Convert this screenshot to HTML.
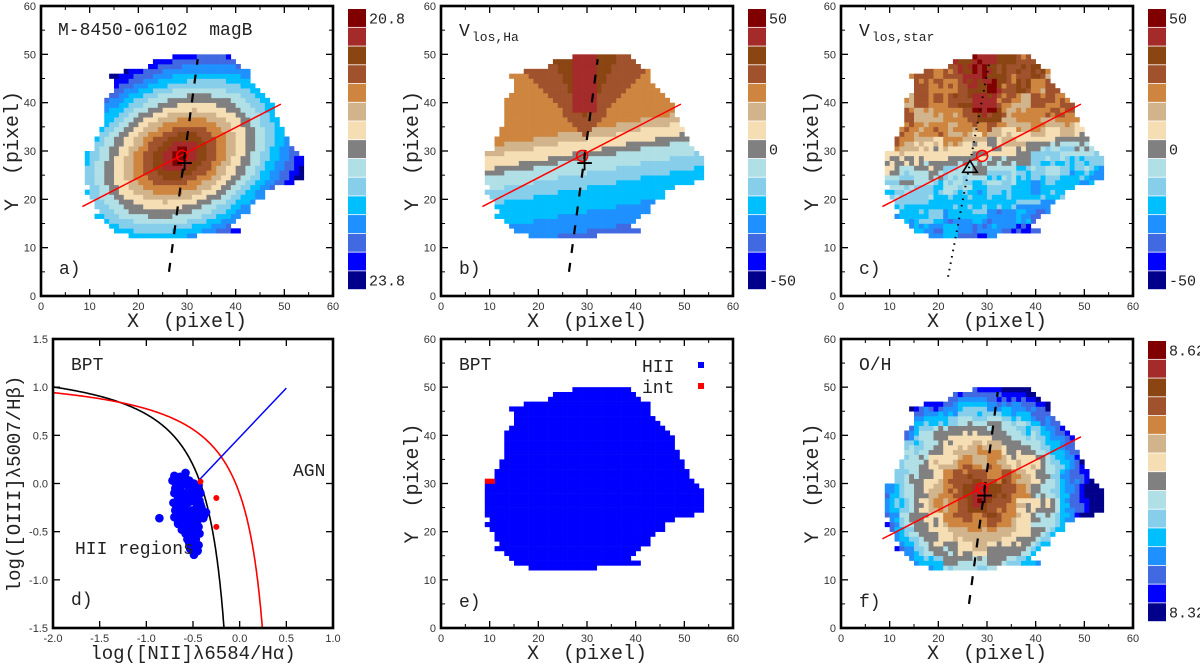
<!DOCTYPE html>
<html><head><meta charset="utf-8"><style>
body{margin:0;background:#fff}
svg text{font-family:"Liberation Mono",monospace;fill:#222}
.tk{font-family:"Liberation Sans",sans-serif;font-size:11px;fill:#333}
</style></head><body>
<svg id="fig" width="1200" height="667" xmlns="http://www.w3.org/2000/svg"></svg>
<script>
// ---- data ----
const maskY0 = 12;
const maskXmin = [18,15,14,13,11,12,11,11,10,9,10,9,9,9,9,9,9,9,11,11,11,12,12,13,13,13,13,13,13,14,15,15,15,14,17,22,23,27];
const maskXmax = [31,40,38,39,40,42,42,43,45,45,47,51,53,53,53,53,53,52,51,50,50,49,49,48,48,47,47,47,46,45,44,43,42,42,42,40,39,38];
const palette = ['#800000','#a52a2a','#8b4513','#a0522d','#cd853f','#d2b48c','#f5deb3','#808080','#b0e0e6','#87ceeb','#00bfff','#1e90ff','#4169e1','#0000ff','#00008b'];
const intCells = [[9,30],[10,30]];
const bptX = [-0.72,-0.70,-0.69,-0.68,-0.67,-0.66,-0.65,-0.64,-0.63,-0.62,-0.61,-0.60,-0.59,-0.58,-0.57,-0.56,-0.55,-0.54,-0.53,-0.52,-0.51,-0.50,-0.49,-0.48,-0.47,-0.46,-0.45,-0.44,-0.42,-0.40,-0.38,
 -0.71,-0.69,-0.67,-0.65,-0.63,-0.61,-0.59,-0.57,-0.55,-0.53,-0.51,-0.49,-0.47,-0.45,-0.43,-0.41,-0.39,-0.36,
 -0.70,-0.68,-0.66,-0.64,-0.62,-0.60,-0.58,-0.56,-0.54,-0.52,-0.50,-0.48,-0.46,-0.44,-0.42,
 -0.58,-0.56,-0.54,-0.52,-0.50,-0.48,-0.46,-0.44,-0.55,-0.51,-0.47,-0.43,-0.53,-0.49,-0.45,-0.50,-0.47,-0.44,-0.86,-0.58,-0.66,-0.62,-0.57,
 -0.68,-0.64,-0.60,-0.56,-0.52,-0.48,-0.70,-0.66,-0.62,-0.58,-0.54,-0.50,-0.46];
const bptY = [0.03,0.08,-0.05,0.06,-0.12,0.02,-0.18,0.07,-0.08,0.04,-0.22,0.01,-0.15,0.05,-0.28,-0.02,-0.35,0.03,-0.10,-0.40,-0.05,-0.30,0.00,-0.45,-0.20,-0.06,-0.38,-0.12,-0.22,-0.30,-0.33,
 -0.20,-0.28,-0.32,-0.25,-0.38,-0.30,-0.42,-0.36,-0.20,-0.45,-0.28,-0.15,-0.33,-0.08,-0.18,-0.25,-0.36,-0.30,
 -0.10,-0.02,-0.15,-0.05,-0.18,-0.10,-0.22,-0.12,-0.08,-0.16,-0.12,-0.05,-0.25,-0.02,-0.10,
 -0.52,-0.58,-0.62,-0.66,-0.70,-0.72,-0.68,-0.64,-0.55,-0.60,-0.58,-0.52,-0.68,-0.74,-0.70,-0.50,-0.62,-0.45,-0.36,0.11,-0.42,-0.48,-0.44,
 -0.26,-0.33,-0.40,-0.30,-0.48,-0.40,-0.35,-0.40,-0.27,-0.50,-0.36,-0.56,-0.52];
const bptRedX = [-0.42,-0.25,-0.25];
const bptRedY = [0.02,-0.15,-0.45];
const xTicksMap = [0,10,20,30,40,50,60];
const xTicksBpt = ['-2.0','-1.5','-1.0','-0.5','0.0','0.5','1.0'];
const yTicksBpt = ['-1.5','-1.0','-0.5','0.0','0.5','1.0','1.5'];

// ---- helpers ----
const svg = document.getElementById('fig');
const NS = 'http://www.w3.org/2000/svg';
const SP = '\u00a0';
function mk(tag, attrs, parent){const e=document.createElementNS(NS,tag);for(const k in attrs)e.setAttribute(k,attrs[k]);(parent||svg).appendChild(e);return e;}
function txt(x,y,s,attrs,parent){const e=mk('text',Object.assign({x:x,y:y},attrs||{}),parent);e.textContent=s;return e;}

function panelBox(col,row){const x0=col*400+(col===0&&row===1?53:41);return {x0:x0,x1:col*400+333,y0:row?339:6,y1:row?628:296};}
function hash(i,j){return (((i*73+j*151+i*j*7)%23)+23)%23/23;}
function smooth(i,j){return (hash(i,j)+hash(Math.floor(i/3),Math.floor(j/3))*2)/3;}

function fieldIndex(kind,x,y){
  const cx=x+0.5, cy=y+0.5;
  if(kind==='a'){const t=27*Math.PI/180;const u=(cx-28.5)*Math.cos(t)+(cy-29)*Math.sin(t);const v=-(cx-28.5)*Math.sin(t)+(cy-29)*Math.cos(t);const d=Math.sqrt((u/1.4)**2+v*v);return Math.min(14,Math.floor(d/1.45));}
  if(kind==='b'||kind==='c'){
    const s=(cy-28.5)-0.18*(cx-30);let idx;
    if(s>=0){idx=s<1.5?7:s<4?6:s<6?5:4;
      const dx=Math.abs(cx-29.5);
      if(cy>33&&dx<(cy-33)*0.9)idx=3;
      if(cy>37&&dx<(cy-37)*0.55)idx=2;
      if(cy>38&&dx<2.6)idx=1;}
    else{idx=s>-3?8:s>-6?9:s>-11?10:s>-15?11:12;}
    if(kind==='c')idx+=Math.round((smooth(x,y)-0.5)*3.0);
    return Math.max(0,Math.min(14,idx));}
  if(kind==='f'){const d=Math.hypot(cx-28.5,cy-28);let idx=1+d*0.45+(smooth(x,y)-0.5)*2.6;if(d>15)idx+=(d-15)*0.35;return Math.max(0,Math.min(14,Math.round(idx)));}
  return 12;
}

function frameTicks(g,b,xt,yt,minor){
  const xs=i=>b.x0+(b.x1-b.x0)*i/(xt.length-1), ys=i=>b.y1-(b.y1-b.y0)*i/(yt.length-1);
  for(let i=0;i<xt.length;i++){const x=xs(i);mk('line',{x1:x,y1:b.y1,x2:x,y2:b.y1-7,stroke:'#000','stroke-width':1.3},g);mk('line',{x1:x,y1:b.y0,x2:x,y2:b.y0+7,stroke:'#000','stroke-width':1.3},g);
    const t=txt(x,b.y1+14,xt[i],{class:'tk','text-anchor':'middle'},g);
    if(minor&&i<xt.length-1){const xm=(x+xs(i+1))/2;mk('line',{x1:xm,y1:b.y1,x2:xm,y2:b.y1-4,stroke:'#000'},g);mk('line',{x1:xm,y1:b.y0,x2:xm,y2:b.y0+4,stroke:'#000'},g);}}
  for(let i=0;i<yt.length;i++){const y=ys(i);mk('line',{x1:b.x0,y1:y,x2:b.x0+7,y2:y,stroke:'#000','stroke-width':1.3},g);mk('line',{x1:b.x1,y1:y,x2:b.x1-7,y2:y,stroke:'#000','stroke-width':1.3},g);
    const t=txt(b.x0-5,y+4,yt[i],{class:'tk','text-anchor':'end'},g);
    if(minor&&i<yt.length-1){const ym=(y+ys(i+1))/2;mk('line',{x1:b.x0,y1:ym,x2:b.x0+4,y2:ym,stroke:'#000'},g);mk('line',{x1:b.x1,y1:ym,x2:b.x1-4,y2:ym,stroke:'#000'},g);}}
  mk('rect',{x:b.x0,y:b.y0,width:b.x1-b.x0,height:b.y1-b.y0,fill:'none',stroke:'#000','stroke-width':2.6},g);
}

function mapPanel(col,row,kind,opts){
  const b=panelBox(col,row);
  const g=mk('g',{});
  
  
  const sx=v=>b.x0+(b.x1-b.x0)*v/60, sy=v=>b.y1-(b.y1-b.y0)*v/60;
  const cw=sx(1)-sx(0)+0.3, ch=sy(0)-sy(1)+0.3;
  const cells=mk('g',{},g);
  
  
  for(let r=0;r<maskXmin.length;r++){const y=maskY0+r;for(let x=maskXmin[r];x<=maskXmax[r];x++){
    const c=kind==='e'?'#0000ff':palette[fieldIndex(kind,x,y)];
    mk('rect',{x:sx(x),y:sy(y+1),width:cw,height:ch,fill:c},cells);}}
  if(kind==='e'){intCells.forEach(p=>{const r=mk('rect',{x:sx(p[0]),y:sy(p[1]+1),width:cw,height:ch,fill:'#ff0000'},cells);});}
  if(opts.lines){
    const rl=mk('line',{x1:sx(8.5),y1:sy(18.5),x2:sx(49.3),y2:sy(39.7),stroke:'#ff0000','stroke-width':1.5},g);
    
    const dl=kind==='c'?mk('line',{x1:sx(22),y1:sy(4),x2:sx(30.5),y2:sy(48.5),stroke:'#000','stroke-width':2,'stroke-dasharray':'1.5 5'},g)
      :mk('line',{x1:sx(26.3),y1:sy(5),x2:sx(32.2),y2:sy(49),stroke:'#000','stroke-width':2.2,'stroke-dasharray':'9 10'},g);
    
    const cc=mk('circle',{cx:sx(29),cy:sy(29),r:5.5,fill:'none',stroke:'#ff0000','stroke-width':1.5},g);
    
    if(kind==='c'){const tr=mk('path',{d:`M${sx(26.5)} ${sy(28)} L${sx(25)} ${sy(25.6)} L${sx(28)} ${sy(25.6)} Z`,fill:'none',stroke:'#000','stroke-width':1.6},g);}
    else{const cr=mk('path',{d:`M${sx(28)} ${sy(27.5)} H${sx(31)} M${sx(29.5)} ${sy(26)} V${sy(29.5)}`,stroke:'#000','stroke-width':1.8},g);}
  }
  frameTicks(g,b,xTicksMap.map(String),xTicksMap.map(String),true);
  const xl=txt((b.x0+b.x1)/2,row?659:327,'X'+SP+SP+'(pixel)',{'font-size':20,'text-anchor':'middle'},g);
  
  const yc=(b.y0+b.y1)/2, yx=col*400+18;
  const yl=txt(yx,yc,'Y'+SP+SP+'(pixel)',{'font-size':20,'text-anchor':'middle',transform:`rotate(-90 ${yx} ${yc})`},g);
  
  const pl=txt(b.x0+18,b.y0+268,opts.letter,{'font-size':18},g);
  
  if(opts.cbar){
    const cg=mk('g',{},svg);
    
    
    const cx=col*400+348, top=row?341:9, bot=row?622:290, h=(bot-top)/15;
    palette.forEach((c,i)=>{mk('rect',{x:cx,y:top+i*h,width:18,height:h-0.8,fill:c},cg);});
    opts.cbar.forEach(l=>{const t=txt(cx+21,top+h*(l[1]+0.5)+5,l[0],{'font-size':15},cg);});
  }
  return {g:g,b:b};
}

const pa=mapPanel(0,0,'a',{lines:true,letter:'a)',cbar:[['20.8',0],['23.8',14]]});
let t=txt(58,35,'M-8450-06102'+SP+SP+'magB',{'font-size':18},pa.g);
const pb=mapPanel(1,0,'b',{lines:true,letter:'b)',cbar:[['50',0],['0',7],['-50',14]]});
t=txt(459,36,'V',{'font-size':18},pb.g);
txt(472,41,'los,Ha',{'font-size':13},pb.g);
const pc=mapPanel(2,0,'c',{lines:true,letter:'c)',cbar:[['50',0],['0',7],['-50',14]]});
t=txt(859,36,'V',{'font-size':18},pc.g);
txt(872,41,'los,star',{'font-size':13},pc.g);
const pe=mapPanel(1,1,'e',{lines:false,letter:'e)'});
t=txt(459,370,'BPT',{'font-size':18},pe.g);
t=txt(642,372,'HII',{'font-size':18},pe.g);
mk('rect',{x:698,y:362,width:6,height:6,fill:'#0000ff'},pe.g);
t=txt(642,393,'int',{'font-size':18},pe.g);
mk('rect',{x:698,y:383,width:6,height:6,fill:'#ff0000'},pe.g);
const pf=mapPanel(2,1,'f',{lines:true,letter:'f)',cbar:[['8.62',0],['8.32',14]]});
t=txt(859,370,'O/H',{'font-size':18},pf.g);

// ---- BPT panel d ----
(function(){
  const b=panelBox(0,1);
  const g=mk('g',{});
  
  
  const sx=v=>b.x0+(b.x1-b.x0)*(v+2)/3, sy=v=>b.y1-(b.y1-b.y0)*(v+1.5)/3;
  const clip=mk('clipPath',{id:'cd'},g);
  mk('rect',{x:b.x0,y:b.y0,width:b.x1-b.x0,height:b.y1-b.y0},clip);
  function curve(a,c,d,col,name){let p='';for(let x=-2;x<c;x+=0.005){const y=a/(x-c)+d;if(y<-1.6)break;p+=(p?'L':'M')+sx(x).toFixed(1)+' '+sy(y).toFixed(1);}
    const e=mk('path',{d:p,fill:'none',stroke:col,'stroke-width':1.6,'clip-path':'url(#cd)'},g);}
  curve(0.61,0.05,1.3,'#000','kauffmann-curve');
  curve(0.61,0.47,1.19,'#ff0000','kewley-curve');
  const bl=mk('line',{x1:sx(-0.43),y1:sy(0.04),x2:sx(0.5),y2:sy(0.99),stroke:'#0000ff','stroke-width':1.5},g);
  
  for(let i=0;i<bptX.length;i++){const c=mk('circle',{cx:sx(bptX[i]),cy:sy(bptY[i]),r:4.3,fill:'#0000ff'},g);}
  for(let i=0;i<bptRedX.length;i++){const c=mk('circle',{cx:sx(bptRedX[i]),cy:sy(bptRedY[i]),r:3,fill:'#ff0000'},g);}
  frameTicks(g,b,xTicksBpt,yTicksBpt,false);
  t=txt(71,370,'BPT',{'font-size':18},g);
  t=txt(293,476,'AGN',{'font-size':18},g);
  t=txt(75,554,'HII regions',{'font-size':18},g);
  t=txt(71,605,'d)',{'font-size':18},g);
  t=txt(193,659,'log([NII]λ6584/Hα)',{'font-size':19,'text-anchor':'middle'},g);
  t=txt(20,484,'log([OIII]λ5007/Hβ)',{'font-size':19,'text-anchor':'middle',transform:'rotate(-90 20 484)'},g);
})();
</script>
</body></html>
